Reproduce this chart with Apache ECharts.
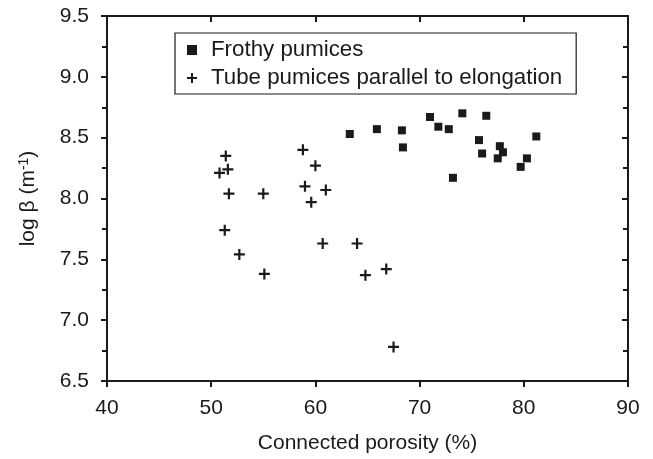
<!DOCTYPE html>
<html>
<head>
<meta charset="utf-8">
<script src="https://cdn.jsdelivr.net/npm/echarts@6/dist/echarts.min.js"></script>
<style>
html,body{margin:0;padding:0;background:#fff;}
#chart{width:653px;height:459px;}
</style>
</head>
<body>
<div id="chart"></div>
<script>
// Frothy pumices: connected porosity (%) , log beta
var frothyX = [63.3, 65.9, 68.3, 68.4, 71.0, 71.8, 72.8, 73.2, 74.1, 76.4, 75.7, 76.0, 77.7, 78.0, 77.5, 80.3, 79.7, 81.2];
var frothyY = [8.53, 8.57, 8.56, 8.42, 8.67, 8.59, 8.57, 8.17, 8.70, 8.68, 8.48, 8.37, 8.43, 8.38, 8.33, 8.33, 8.26, 8.51];
// Tube pumices parallel to elongation
var tubeX = [51.4, 50.8, 51.6, 51.7, 55.0, 58.8, 60.0, 59.0, 61.0, 59.6, 51.3, 60.7, 64.0, 52.7, 55.1, 64.8, 66.8, 67.5];
var tubeY = [8.35, 8.21, 8.24, 8.04, 8.04, 8.40, 8.27, 8.10, 8.07, 7.97, 7.74, 7.63, 7.63, 7.54, 7.38, 7.37, 7.42, 6.78];

var seriesNames = ['Frothy pumices', 'Tube pumices parallel to elongation'];
var xTicks = {min: 40, max: 90, step: 10};
var yTicks = {min: 6.5, max: 9.5, step: 0.5};

function pairs(xs, ys){
	var out = [];
	for (var i = 0; i < xs.length; i++){
		out.push([xs[i], ys[i]]);
	}
	return out;
}

var plusPath = 'path://M4,0H6V4H10V6H6V10H4V6H0V4H4Z';
var ink = '#1a1a1a';
var fontFam = 'Liberation Sans, Arial, sans-serif';

var myChart = echarts.init(document.getElementById('chart'));
var option = {
	animation: false,
	backgroundColor: '#fff',
	textStyle: {fontFamily: fontFam},
	grid: {left: 107, right: 25, top: 16, bottom: 77},
	legend: {
		orient: 'vertical',
		left: 175,
		top: 33,
		padding: [6, 14, 5, 12],
		itemGap: 6,
		itemWidth: 10,
		itemHeight: 10,
		borderColor: ink,
		borderWidth: 1.2,
		textStyle: {fontSize: 22.3, color: ink, fontFamily: fontFam, padding: [0, 0, 0, 9]},
		data: [
			{name: seriesNames[0], icon: 'rect', itemStyle: {color: ink}},
			{name: seriesNames[1], icon: plusPath, itemStyle: {color: ink}}
		]
	},
	xAxis: [
		{
			type: 'value', position: 'bottom',
			min: xTicks.min, max: xTicks.max, interval: xTicks.step,
			name: 'Connected porosity (%)',
			nameLocation: 'middle', nameGap: 52,
			nameTextStyle: {fontSize: 21, color: ink, fontFamily: fontFam},
			axisLine: {onZero: false, lineStyle: {color: ink, width: 2}},
			axisTick: {inside: false, length: 6, lineStyle: {color: ink, width: 2}},
			axisLabel: {fontSize: 21, color: ink, margin: 17, fontFamily: fontFam},
			splitLine: {show: false}
		},
		{
			type: 'value', position: 'top',
			min: xTicks.min, max: xTicks.max, interval: xTicks.step,
			axisLine: {onZero: false, lineStyle: {color: ink, width: 2}},
			axisTick: {inside: true, length: 6, lineStyle: {color: ink, width: 2}},
			axisLabel: {show: false},
			splitLine: {show: false}
		}
	],
	yAxis: [
		{
			type: 'value', position: 'left',
			min: yTicks.min, max: yTicks.max, interval: yTicks.step,
			name: 'log β (m{sup|-1})',
			nameLocation: 'middle', nameGap: 67, nameRotate: 90,
			nameTextStyle: {
				fontSize: 21, color: ink, fontFamily: fontFam,
				rich: {sup: {fontSize: 14, verticalAlign: 'bottom', padding: [0, 0, 9, 0], color: ink, fontFamily: fontFam}}
			},
			axisLine: {onZero: false, lineStyle: {color: ink, width: 2}},
			axisTick: {inside: false, length: 6, lineStyle: {color: ink, width: 2}},
			minorTick: {show: true, splitNumber: 2, length: 5, lineStyle: {color: ink, width: 2}},
			axisLabel: {
				fontSize: 21, color: ink, margin: 18, fontFamily: fontFam,
				formatter: function(v){ return v.toFixed(1); }
			},
			splitLine: {show: false},
			minorSplitLine: {show: false}
		},
		{
			type: 'value', position: 'right',
			min: yTicks.min, max: yTicks.max, interval: yTicks.step,
			axisLine: {onZero: false, lineStyle: {color: ink, width: 2}},
			axisTick: {inside: true, length: 6, lineStyle: {color: ink, width: 2}},
			minorTick: {show: true, splitNumber: 2, length: 5, lineStyle: {color: ink, width: 2}},
			axisLabel: {show: false},
			splitLine: {show: false},
			minorSplitLine: {show: false}
		}
	],
	series: [
		{
			name: seriesNames[0],
			type: 'scatter',
			symbol: 'rect',
			symbolSize: 8,
			itemStyle: {color: ink, opacity: 1},
			data: pairs(frothyX, frothyY)
		},
		{
			name: seriesNames[1],
			type: 'scatter',
			symbol: plusPath,
			symbolSize: 11,
			itemStyle: {color: ink, opacity: 1},
			data: pairs(tubeX, tubeY)
		}
	]
};
myChart.setOption(option);
</script>
</body>
</html>
